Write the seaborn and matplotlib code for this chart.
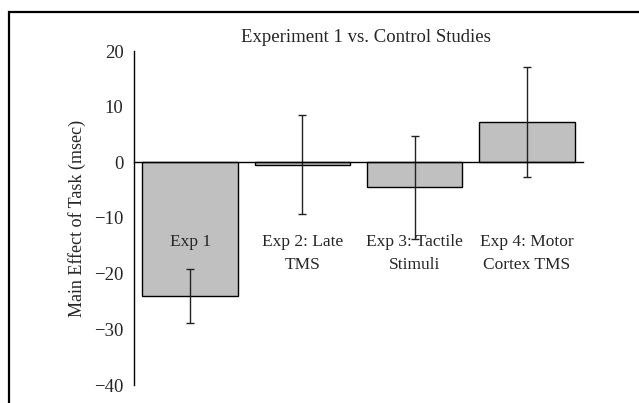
import matplotlib
matplotlib.use("Agg")
import matplotlib.pyplot as plt
import matplotlib.patches as patches
import seaborn as sns
import pandas as pd

# data
conditions = ["Exp 1", "Exp 2: Late\nTMS", "Exp 3: Tactile\nStimuli", "Exp 4: Motor\nCortex TMS"]
main_effect = [-24.0, -0.4, -4.5, 7.2]
error = [4.9, 8.9, 9.3, 9.9]

df = pd.DataFrame({"cond": conditions, "effect": main_effect, "err": error})

sns.set_style("white")
plt.rcParams["font.family"] = ["Liberation Serif", "DejaVu Serif"]
plt.rcParams["font.size"] = 12

fig = plt.figure(figsize=(6.39, 4.03), dpi=100)
ax = fig.add_axes([134 / 639, 1 - 385 / 403, 449 / 639, 334 / 403])

sns.barplot(data=df, x="cond", y="effect", ax=ax, color="#c0c0c0",
            edgecolor="black", linewidth=1.0, width=0.85, saturation=1)
ax.errorbar(range(len(df)), df["effect"], yerr=df["err"], fmt="none",
            ecolor="#222222", elinewidth=1.0, capsize=3, capthick=1.0)

# condition names sit inside the plot below the zero line
for i, lab in enumerate(df["cond"]):
    ax.text(i, -12.8, lab, ha="center", va="top", fontsize=12.5, linespacing=1.6)

ax.set_xlim(-0.5, 3.5)
ax.set_ylim(-40, 20)
ax.set_yticks([-40, -30, -20, -10, 0, 10, 20])
ax.set_yticklabels(["\u221240", "\u221230", "\u221220", "\u221210", "0", "10", "20"])
ax.set_xticks([-0.5, 0.5, 1.5, 2.5, 3.5])
ax.set_xticklabels([])
ax.set_xlabel("")
ax.set_ylabel("Main Effect of Task (msec)", fontsize=13, labelpad=6)

ax.spines["top"].set_visible(False)
ax.spines["right"].set_visible(False)
ax.spines["bottom"].set_position(("data", 0))
for s in ["left", "bottom"]:
    ax.spines[s].set_color("black")
    ax.spines[s].set_linewidth(1.0)
ax.tick_params(axis="y", direction="out", length=4.5, width=1.0, color="black",
               pad=3, labelsize=13.5)
ax.tick_params(axis="x", direction="out", length=4, width=1.0, color="black")
ax.set_facecolor("none")

fig.text(366 / 639, 1 - 37 / 403, "Experiment 1 vs. Control Studies",
         ha="center", va="center", fontsize=13.5)

# frame of the original figure, cropped at right and bottom
top = 1 - 12 / 403
frame = patches.Rectangle((9 / 639, -0.2), 1.5, top + 0.2,
                          transform=fig.transFigure, fill=False,
                          edgecolor="black", linewidth=1.6, clip_on=False)
fig.add_artist(frame)

fig.savefig("out.png", dpi=100)
